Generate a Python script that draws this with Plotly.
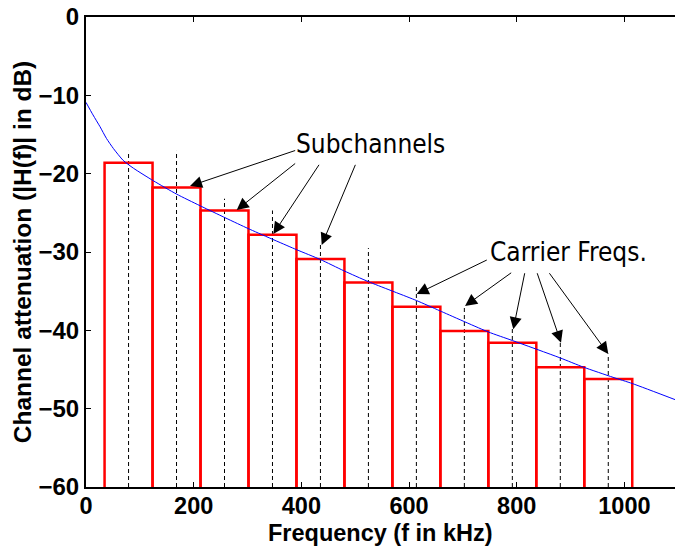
import plotly.graph_objects as go

# ---- data ----
band_edges = [34.5, 123.6, 212.7, 301.8, 390.9, 480.0, 569.1, 658.2, 747.3, 836.4, 925.5, 1014.6]
band_levels = [-18.6, -21.75, -24.7, -27.8, -30.9, -33.9, -37.0, -40.1, -41.6, -44.7, -46.2]
carrier_freqs = [79.05, 168.15, 257.25, 346.35, 435.45, 524.55, 613.65, 702.75, 791.85, 880.95, 970.05]
carrier_tops = [-17.1, -17.1, -23.2, -24.7, -29.1, -29.5, -34.4, -36.9, -39.8, -41.6, -43.0]
curve_f = [0, 13, 26, 38, 51, 69, 88, 125, 168, 212, 301, 391, 435, 479, 525, 614, 657, 747, 792, 880, 924, 979, 1015, 1100]
curve_db = [-10.9, -12.5, -14.0, -15.5, -16.8, -18.3, -19.3, -20.9, -22.6, -24.1, -27.0, -29.7, -30.95, -32.4,
            -33.8, -36.2, -37.5, -40.2, -41.3, -43.5, -44.7, -46.0, -46.8, -49.0]
x_ticks = [0, 200, 400, 600, 800, 1000]
y_ticks = [0, -10, -20, -30, -40, -50, -60]
Y_MIN, Y_MAX = -60, 0
X_MIN, X_MAX = 0, 1094

# annotation arrows: (tail_x, tail_y, tip_x, tip_y) in data units
sub_arrows = [(391.3, -16.98, 193.2, -21.57), (391.3, -18.55, 279.9, -24.64),
              (434.6, -18.68, 347.9, -27.70), (501.5, -18.68, 437.8, -29.11)]
car_arrows = [(747.2, -30.93, 614.2, -35.36), (792.5, -32.52, 704.0, -36.89),
              (815.4, -32.52, 793.6, -39.87), (837.1, -32.52, 882.3, -41.58),
              (858.7, -32.52, 970.1, -43.02)]

fig = go.Figure()

# dashed carrier lines
dx, dy = [], []
for f, t in zip(carrier_freqs, carrier_tops):
    dx += [f, f, None]
    dy += [Y_MIN, t, None]
fig.add_trace(go.Scatter(x=dx, y=dy, mode="lines",
                         line=dict(color="black", width=1, dash="4px,3px"), hoverinfo="skip"))

# red subchannel outlines
rx, ry = [], []
for i, lvl in enumerate(band_levels):
    l, r = band_edges[i], band_edges[i + 1]
    rx += [l, l, r, r, None]
    ry += [Y_MIN, lvl, lvl, Y_MIN, None]
fig.add_trace(go.Scatter(x=rx, y=ry, mode="lines",
                         line=dict(color="#ff0000", width=2.5), hoverinfo="skip"))

# channel curve
fig.add_trace(go.Scatter(x=curve_f, y=curve_db, mode="lines",
                         line=dict(color="#0000ff", width=1, shape="spline", smoothing=0.6), hoverinfo="skip"))

ann_font = dict(family="Liberation Sans Narrow, DejaVu Sans Condensed, Arial, sans-serif", size=26, color="black")
title_font = dict(family="Liberation Sans, Arial, sans-serif", size=23.5, color="black")
annotations = [
    dict(x=527.5, y=-16.2, xref="x", yref="y", text="Subchannels", showarrow=False,
         font=ann_font, xanchor="center", yanchor="middle"),
    dict(x=895.8, y=-30.0, xref="x", yref="y", text="Carrier Freqs.", showarrow=False,
         font=ann_font, xanchor="center", yanchor="middle"),
    dict(x=0.5, y=0, xref="paper", yref="paper", yshift=-61, text="<b>Frequency (f in kHz)</b>",
         showarrow=False, font=title_font, xanchor="center", yanchor="bottom"),
]
for tx, ty, hx, hy in sub_arrows + car_arrows:
    annotations.append(dict(x=hx, y=hy, ax=tx, ay=ty, xref="x", yref="y", axref="x", ayref="y",
                            text="", showarrow=True, arrowhead=2, arrowsize=2.4, arrowwidth=1,
                            arrowcolor="black", standoff=0, startstandoff=0))

tick_font = dict(family="Liberation Sans, Arial, sans-serif", size=23.5, color="black")

fig.update_layout(
    width=675, height=546,
    margin=dict(l=86, r=0, t=17, b=59),
    paper_bgcolor="white", plot_bgcolor="white",
    showlegend=False,
    annotations=annotations,
    xaxis=dict(range=[X_MIN, X_MAX], tickvals=x_ticks, ticktext=[f"<b>{v}</b>" for v in x_ticks],
               ticks="inside", ticklen=5, tickwidth=1, tickcolor="black", ticklabelstandoff=-3,
               showline=True, linecolor="black", linewidth=2, mirror="ticks",
               showgrid=False, zeroline=False, tickfont=tick_font),
    yaxis=dict(range=[Y_MIN, Y_MAX], tickvals=y_ticks, ticktext=[f"<b>{v}</b>".replace("-", "\u2212") for v in y_ticks],
               ticks="inside", ticklen=5, tickwidth=1, tickcolor="black",
               showline=True, linecolor="black", linewidth=2, mirror=False,
               showgrid=False, zeroline=False, tickfont=dict(tick_font, size=24),
               title=dict(text="<b>Channel attenuation (|H(f)| in dB)</b>",
                          font=dict(family="Liberation Sans, Arial, sans-serif", size=24.5, color="black"),
                          standoff=0)),
)

fig.write_html("out.html")
